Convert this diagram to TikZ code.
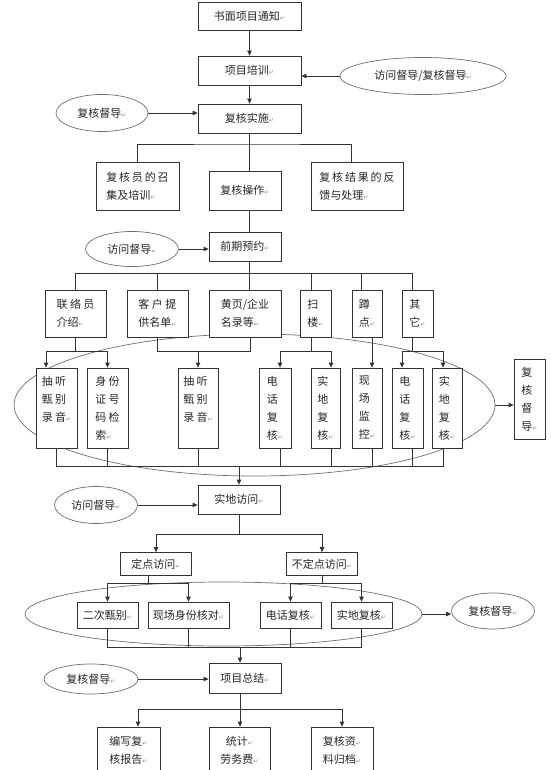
\documentclass[tikz,border=0pt]{standalone}
\usepackage{fontspec}
\setmainfont{Noto Sans CJK SC}
\newfontfamily\retfont{DejaVu Sans}
\usepackage{tikz}
\usetikzlibrary{arrows.meta,shapes.geometric}
\definecolor{LineGray}{HTML}{333333}
\definecolor{OvalGray}{HTML}{6E6E6E}
\newcommand{\retmark}{{\retfont\fontsize{6}{6}\selectfont\color{black!45}↵}}

\begin{document}
\begin{tikzpicture}[x=1pt,y=-1pt,
box/.style={draw=LineGray,fill=white,line width=0.8pt,inner sep=1pt,align=left,font=\fontsize{11}{18}\selectfont,text=black!85},
oval/.style={ellipse,draw=OvalGray,fill=white,line width=0.7pt,inner sep=0pt,font=\fontsize{11}{13}\selectfont,text=black!85},
group/.style={ellipse,draw=OvalGray,line width=0.7pt,inner sep=0pt},
sz/.style 2 args={minimum width=#1pt,minimum height=#2pt},
ln/.style={draw=LineGray,line width=0.8pt},
arr/.style={ln,-{Triangle[length=5pt,width=4.5pt]}}
]
\useasboundingbox (0,0) rectangle (550,770);
% grouping ovals
\node[group,sz={481}{142}] (grpA) at (254.5,405) {};
\node[group,sz={397}{64}] (grpB) at (223.5,614) {};
% preparation
\node[box,sz={103}{28}] (notice) at (249.5,16) {书面项目通知\retmark};
\node[box,sz={103}{29}] (train) at (249.5,70.5) {项目培训\retmark};
\node[box,sz={103}{29}] (check) at (249.5,118.5) {复核实施\retmark};
\node[oval,sz={166}{37}] (supA) at (423,76) {访问督导/复核督导\retmark};
\node[oval,sz={92}{37}] (supB) at (102,113) {复核督导\retmark};
\node[box,sz={83}{48}] (staff) at (137.5,186) {复\,核\,员\,的\,召\\集及培训\retmark};
\node[box,sz={72}{39}] (oper) at (245,190.5) {复核操作\retmark};
\node[box,sz={92}{48}] (feedb) at (357,186) {复\,核\,结\,果\,的\,反\\馈与处理\retmark};
\node[box,sz={72}{29}] (appt) at (245,246.5) {前期预约\retmark};
\node[oval,sz={93}{35}] (supC) at (132,249) {访问督导\retmark};
% sample sources
\node[box,sz={61}{47}] (src1) at (75.5,313.5) {联 络 员\\介绍\retmark};
\node[box,sz={61}{47}] (src2) at (157.5,313.5) {客 户 提\\供名单\retmark};
\node[box,sz={72}{47}] (src3) at (245,313.5) {黄页/企业\\名录等\retmark};
\node[box,sz={31}{47}] (src4) at (315.5,313.5) {扫\\楼\retmark};
\node[box,sz={30}{47}] (src5) at (367,313.5) {蹲\\点\retmark};
\node[box,sz={31}{47}] (src6) at (417.5,313.5) {其\\它\retmark};
% checks
\node[box,sz={41}{80}] (chk1) at (56.5,408) {抽 听\\甄 别\\录 音\retmark\\\mbox{}};
\node[box,sz={41}{80}] (chk2) at (107.5,408) {身 份\\证 号\\码 检\\索\retmark};
\node[box,sz={40}{80}] (chk3) at (198,408) {抽 听\\甄 别\\录 音\retmark\\\mbox{}};
\node[box,sz={32}{80}] (chk4) at (275,408) {电\\话\\复\\核\retmark};
\node[box,sz={29}{80}] (chk5) at (325.5,408) {实\\地\\复\\核\retmark};
\node[box,sz={30}{80}] (chk6) at (367,408) {现\\场\\监\\控\retmark};
\node[box,sz={31}{80}] (chk7) at (407.5,408) {电\\话\\复\\核\retmark};
\node[box,sz={30}{80}] (chk8) at (447,408) {实\\地\\复\\核\retmark};
\node[box,sz={31}{80}] (supD) at (529.5,399) {复\\核\\督\\导\retmark};
% field visit
\node[box,sz={82}{29}] (visit) at (239,499.5) {实地访问\retmark};
\node[oval,sz={83}{37}] (supE) at (96,505) {访问督导\retmark};
\node[box,sz={71}{23}] (fixed) at (156,564) {定点访问\retmark};
\node[box,sz={71}{23}] (mobile) at (322,564) {不定点访问\retmark};
\node[box,sz={61}{26}] (vis1) at (107.5,615) {二次甄别\retmark};
\node[box,sz={81}{26}] (vis2) at (188.5,615) {现场身份核对\retmark};
\node[box,sz={61}{26}] (vis3) at (290.5,615) {电话复核\retmark};
\node[box,sz={61}{26}] (vis4) at (361.5,615) {实地复核\retmark};
\node[oval,sz={83}{36}] (supF) at (493,611) {复核督导\retmark};
% summary
\node[box,sz={72}{30}] (summ) at (245,678) {项目总结\retmark};
\node[oval,sz={94}{30}] (supG) at (91,679) {复核督导\retmark};
\node[box,sz={63}{46}] (out1) at (128.5,750) {编写复\retmark\\核报告\retmark};
\node[box,sz={61}{46},align=center] (out2) at (239.5,750) {统计\retmark\\劳务费\retmark};
\node[box,sz={62}{46}] (out3) at (342,750) {复核资\retmark\\料归档\retmark};

% connectors, top part
\draw[arr] (notice) -- (train);
\draw[arr] (train) -- (check);
\draw[arr] (supA.west) -- (supA.west -| train.east);
\draw[arr] (supB.east) -- (supB.east -| check.west);
\coordinate (split1) at (249.5,144);
\draw[ln] (check.south) -- (check.south |- oper.north);
\draw[ln] (staff.north) |- (split1) -| ([xshift=-6pt]feedb.north);
\draw[ln] (check.south |- oper.south) -- (check.south |- appt.north);
\draw[arr] (supC.east) -- (supC.east -| appt.west);
\coordinate (split2) at (249.5,273);
\draw[ln] (check.south |- appt.south) -- (split2);
\draw[ln] (split2) -- (split2 |- src3.north);
\foreach \s/\d in {src1/0,src2/0,src4/-4,src5/-6,src6/-5.5}
  \draw[ln] (split2) -| ([xshift=\d pt]\s.north);
% sources to checks
\coordinate (fork1) at (75.5,351);
\draw[ln] (src1.south) -- (fork1);
\draw[arr] (fork1) -| ([xshift=-10.5pt]chk1.north);
\draw[arr] (fork1) -| (chk2.north);
\coordinate (fork2) at (198,351);
\draw[ln] (src2.south) |- (fork2);
\draw[ln] ([xshift=5pt]src3.south) |- (fork2);
\draw[arr] (fork2) -- (chk3.north);
\coordinate (fork3) at (311.5,351);
\draw[ln] ([xshift=-4pt]src4.south) -- (fork3);
\draw[arr] (fork3) -| ([xshift=5pt]chk4.north);
\draw[arr] (fork3) -| ([xshift=5.5pt]chk5.north);
\draw[arr] ([xshift=5pt]src5.south) -- ([xshift=5pt]chk6.north);
\coordinate (fork4) at (412,351);
\draw[ln] ([xshift=-5.5pt]src6.south) -- (fork4);
\draw[arr] (fork4) -| ([xshift=-5.5pt]chk7.north);
\draw[arr] (fork4) -| ([xshift=-4pt]chk8.north);
\draw[arr] (grpA.east) -- (grpA.east -| supD.west);
% checks to field visit
\coordinate (merge1) at (239,466);
\foreach \s/\d in {chk1/0,chk2/0,chk3/0,chk4/5,chk5/5.5,chk6/5,chk7/4.5,chk8/-4}
  \draw[ln] ([xshift=\d pt]\s.south) |- (merge1);
\draw[arr] (merge1) -- (merge1 |- visit.north);
\draw[arr] (supE.east) -- (supE.east -| visit.west);
\coordinate (split3) at (239,534);
\draw[ln] (visit.south) -- (split3);
\draw[arr] (split3) -| (fixed.north);
\draw[arr] (split3) -| (mobile.north);
\coordinate (fork5) at (148,583);
\draw[ln] ([xshift=-8pt]fixed.south) -- (fork5);
\draw[arr] (fork5) -| (vis1.north);
\draw[arr] (fork5) -| (vis2.north);
\coordinate (fork6) at (322,583);
\draw[ln] (mobile.south) -- (fork6);
\draw[arr] (fork6) -| (vis3.north);
\draw[arr] (fork6) -| (vis4.north);
\draw[arr] (grpB.east) -- (grpB.east -| supF.west);
% summary
\coordinate (merge2) at (240,647);
\foreach \s in {vis1,vis2,vis3,vis4}
  \draw[ln] (\s.south) |- (merge2);
\draw[arr] (merge2) -- (merge2 |- summ.north);
\draw[arr] (supG.east) -- (supG.east -| summ.west);
\coordinate (split4) at (240,709);
\draw[ln] (split4 |- summ.south) -- (split4);
\draw[arr] (split4) -| ([xshift=9.5pt]out1.north);
\draw[arr] (split4) -- (split4 |- out2.north);
\draw[arr] (split4) -| (out3.north);
\end{tikzpicture}
\end{document}
